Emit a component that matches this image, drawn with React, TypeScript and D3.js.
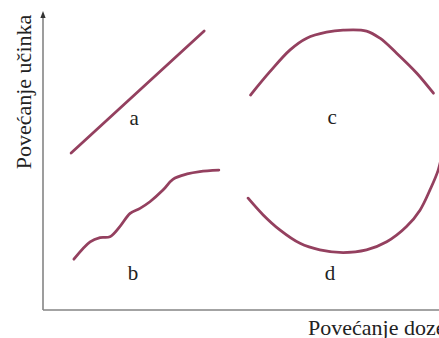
import React, { useEffect, useRef } from "react";
import * as d3 from "d3";

// dose (0-100) vs effect (0-100)
const curveA = [
  [7.1, 52.5],
  [40.7, 93.3],
];
const curveB = [
  [7.8, 17.0], [11.9, 22.8], [14.4, 24.2], [16.9, 24.5], [19.4, 27.9],
  [22.0, 32.3], [24.5, 34.0], [27.0, 36.2], [30.3, 40.1], [32.8, 43.7],
  [36.4, 45.5], [39.6, 46.3], [44.4, 46.8],
];
const curveC = [
  [52.4, 71.9], [57.3, 79.7], [62.4, 87.0], [66.6, 90.9], [71.6, 92.9],
  [75.8, 93.6], [81.7, 93.3], [85.1, 90.9], [89.3, 85.9], [94.4, 79.2],
  [98.6, 72.5],
];
const curveD = [
  [51.8, 37.4], [55.6, 31.8], [59.8, 26.8], [64.9, 22.3], [69.9, 20.1],
  [75.8, 19.2], [81.7, 20.1], [86.8, 22.8], [91.8, 27.9], [95.2, 33.4],
  [97.7, 40.1], [99.8, 46.8], [101.0, 53.5],
];
const curveNames = ["a", "b", "c", "d"];
const labelDose = [23.0, 22.7, 73.0, 72.5];
const labelEffect = [61.9, 10.0, 62.2, 10.0];

const xTitle = "Povećanje doze";
const yTitle = "Povećanje učinka";

const W = 439;
const H = 338;

export default function App() {
  const ref = useRef<SVGSVGElement>(null);

  useEffect(() => {
    document.body.style.margin = "0";
    const svg = d3.select(ref.current);
    svg.selectAll("*").remove();

    const font = "Liberation Serif, Times New Roman, DejaVu Serif, serif";
    const x = d3.scaleLinear().domain([0, 100]).range([43, 439]);
    const y = d3.scaleLinear().domain([0, 100]).range([310, 11]);

    // axes
    const ax = svg.append("g").attr("stroke", "#858585").attr("stroke-width", 1.6).attr("fill", "none");
    ax.append("line")
      .attr("x1", x(0)).attr("x2", x(0))
      .attr("y1", y(0)).attr("y2", y(100) + 4);
    ax.append("line")
      .attr("x1", x(0)).attr("x2", W + 5)
      .attr("y1", y(0)).attr("y2", y(0));
    svg.append("path")
      .attr("d", `M${x(0)},${y(100)} l-2.6,7 l5.2,0 Z`)
      .attr("fill", "#333");

    const line = d3.line<number[]>()
      .x(d => x(d[0]))
      .y(d => y(d[1]))
      .curve(d3.curveCatmullRom.alpha(0.5));

    const curves = [curveA, curveB, curveC, curveD];
    svg.append("g")
      .selectAll("path")
      .data(curves)
      .join("path")
      .attr("d", d => line(d))
      .attr("fill", "none")
      .attr("stroke", "#94405f")
      .attr("stroke-width", 2.8)
      .attr("stroke-linecap", "round");

    svg.append("g")
      .selectAll("text")
      .data(curveNames)
      .join("text")
      .attr("x", (d, i) => x(labelDose[i]))
      .attr("y", (d, i) => y(labelEffect[i]))
      .attr("text-anchor", "middle")
      .style("font-family", font)
      .style("font-size", "21px")
      .attr("fill", "#222")
      .text(d => d);

    svg.append("text")
      .attr("x", 308)
      .attr("y", 335)
      .style("font-family", font)
      .style("font-size", "22px")
      .attr("fill", "#222")
      .text(xTitle);

    svg.append("text")
      .attr("transform", "translate(31,92) rotate(-90)")
      .attr("text-anchor", "middle")
      .style("font-family", font)
      .style("font-size", "22px")
      .attr("fill", "#222")
      .text(yTitle);
  }, []);

  return <svg ref={ref} width={W} height={H} style={{ display: "block", background: "#fff" }} />;
}
